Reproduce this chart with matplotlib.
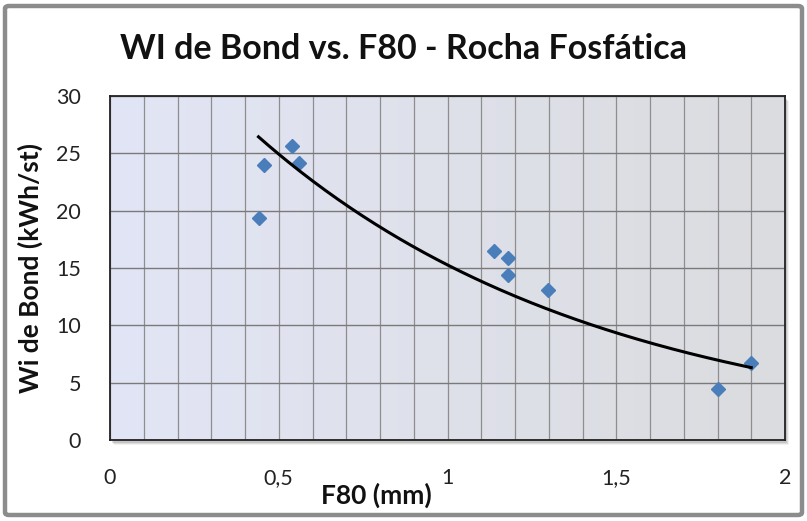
import numpy as np
import matplotlib
matplotlib.use("Agg")
import matplotlib.pyplot as plt
from matplotlib.patches import FancyBboxPatch, Rectangle
from matplotlib.ticker import MultipleLocator, FuncFormatter

# Data
f80_mm = [0.44, 0.456, 0.539, 0.56, 1.138, 1.179, 1.179, 1.298, 1.80, 1.90]
wi_bond = [19.4, 24.0, 25.6, 24.2, 16.5, 15.9, 14.4, 13.1, 4.45, 6.7]
x_ticks = [0, 0.5, 1, 1.5, 2]
y_ticks = [0, 5, 10, 15, 20, 25, 30]
title = "WI de Bond vs. F80 - Rocha Fosfática"
xlabel = "F80 (mm)"
ylabel = "Wi de Bond (kWh/st)"

plt.rcParams['font.family'] = ['Lato', 'DejaVu Sans']

W, H = 807, 521
fig = plt.figure(figsize=(W / 100, H / 100), dpi=100)
fig.patch.set_facecolor('white')

# outer frame
frame = FancyBboxPatch((5 / W, 6 / H), (W - 10) / W, (H - 12) / H,
                       boxstyle="round,pad=0,rounding_size=0.005",
                       transform=fig.transFigure, fill=False,
                       edgecolor='#8c8c8c', linewidth=3.2, zorder=-2)
fig.patches.append(frame)

l, r, b, t = 110 / W, 785 / W, (H - 440) / H, (H - 96) / H
# soft shadow
for i, a in enumerate([0.25, 0.18, 0.1]):
    shadow = Rectangle((l + (2 + i) / W, b - (3 + i) / H), r - l, t - b, transform=fig.transFigure,
                       facecolor='#808080', alpha=a, edgecolor='none', zorder=-1)
    fig.patches.append(shadow)

ax = fig.add_axes([l, b, r - l, t - b])
ax.set_zorder(2)
ax.set_xlim(0, 2)
ax.set_ylim(0, 30)

# gradient background
grad = np.linspace(0, 1, 256).reshape(1, -1)
c0 = np.array([0xe2, 0xe5, 0xf5]) / 255
c1 = np.array([0xdb, 0xdc, 0xdf]) / 255
img = c0[None, None, :] * (1 - grad[..., None]) + c1[None, None, :] * grad[..., None]
ax.imshow(img, extent=[0, 2, 0, 30], aspect='auto', zorder=0, interpolation='bilinear')

ax.xaxis.set_major_locator(MultipleLocator(0.5))
ax.xaxis.set_minor_locator(MultipleLocator(0.1))
ax.set_yticks(y_ticks)
ax.set_xticks(x_ticks)
ax.grid(which='both', axis='x', color='#8e8e8e', linewidth=0.9, zorder=1)
ax.grid(which='major', axis='y', color='#7a7a7a', linewidth=1.0, zorder=1)
ax.set_axisbelow(True)

fmt = FuncFormatter(lambda v, p: ('%g' % v).replace('.', ','))
ax.xaxis.set_major_formatter(fmt)
ax.tick_params(axis='both', which='both', length=0, labelsize=15.5, colors='#222222')
ax.tick_params(axis='x', pad=20)
ax.tick_params(axis='y', pad=21)
for s in ax.spines.values():
    s.set_color('#222222')
    s.set_linewidth(1.3)

# data
ax.plot(f80_mm, wi_bond, linestyle='none', marker='D', markersize=7.5,
        color='#4a7ebb', markeredgecolor='#4a7ebb', zorder=3, clip_on=False)

# exponential trend line (least squares on log)
xa = np.array(f80_mm)
ya = np.array(wi_bond)
bcoef, lna = np.polyfit(xa, np.log(ya), 1)
xx = np.linspace(xa.min(), xa.max(), 200)
ax.plot(xx, np.exp(lna) * np.exp(bcoef * xx), color='black', linewidth=2.2, zorder=4)

fig.text(404 / W, 1 - 49 / H, title, ha='center', va='center', fontsize=24.5, fontweight='bold', color='#111111')
fig.text(376 / W, 1 - 495 / H, xlabel, ha='center', va='center', fontsize=19, fontweight='bold', color='#111111')
fig.text(30 / W, 1 - 268 / H, ylabel, ha='center', va='center', rotation=90, fontsize=19, fontweight='bold', color='#111111')

fig.savefig('out.png', dpi=100)
